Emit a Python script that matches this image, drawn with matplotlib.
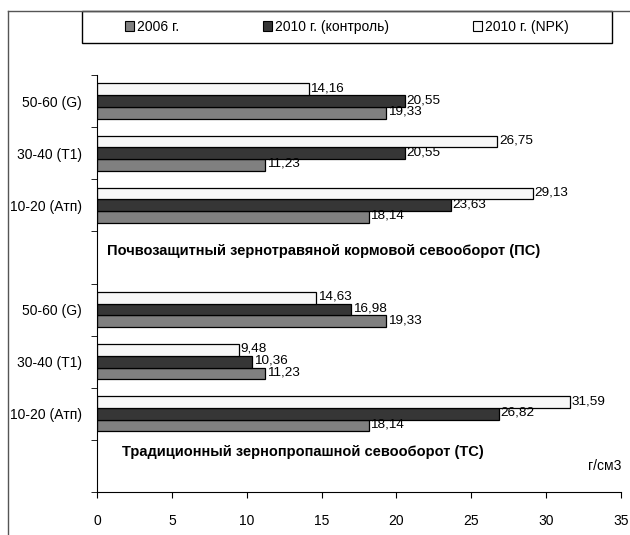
import numpy as np
import matplotlib.pyplot as plt
from matplotlib.patches import Patch, Rectangle
from matplotlib.lines import Line2D

plt.rcParams['font.family'] = ['Liberation Sans', 'DejaVu Sans']

# слои почвы, снизу вверх: пусто (подпись ТС), ТС x3, пусто (подпись ПС), ПС x3
cats = ['', '10-20 (Атп)', '30-40 (Т1)', '50-60 (G)',
        '', '10-20 (Атп)', '30-40 (Т1)', '50-60 (G)']
rows = [1, 2, 3, 5, 6, 7]
y2006 = [18.14, 11.23, 19.33, 18.14, 11.23, 19.33]
y2010k = [26.82, 10.36, 16.98, 23.63, 20.55, 20.55]
y2010npk = [31.59, 9.48, 14.63, 29.13, 26.75, 14.16]
names = ['2006 г.', '2010 г. (контроль)', '2010 г. (NPK)']
colors = ['#808080', '#363636', '#f7f7f7']

fs = 10

fig = plt.figure(figsize=(6.3, 5.35), dpi=100)
ax = fig.add_axes([97/630, 1-492/535, 524/630, 417/535])

h = 0.225
y = np.array(rows, dtype=float)
for vals, off, c in [(y2006, -h, colors[0]), (y2010k, 0, colors[1]), (y2010npk, h, colors[2])]:
    bars = ax.barh(y + off, vals, height=h, color=c, edgecolor='black', linewidth=0.9)
    for b, v in zip(bars, vals):
        ax.text(v + 0.1, b.get_y() + b.get_height()/2 + 0.02, ('%.2f' % v).replace('.', ','),
                va='center', ha='left', fontsize=9.7)

ax.set_xlim(0, 35)
ax.set_ylim(-0.5, 7.5)
ax.set_xticks(np.arange(0, 36, 5))
ax.set_yticks(range(8))
ax.set_yticklabels(cats, fontsize=fs)
ax.set_yticks(np.arange(-0.5, 8, 1), minor=True)
ax.tick_params(axis='y', which='major', length=0, pad=11)
ax.tick_params(axis='y', which='minor', length=4, direction='out')
ax.tick_params(axis='x', length=4, direction='out', labelsize=fs, pad=12)
for s in ['top', 'right']:
    ax.spines[s].set_visible(False)

ax.text(0.67, 4.13, 'Почвозащитный зернотравяной кормовой севооборот (ПС)',
        fontsize=10.5, fontweight='bold', va='center')
ax.text(1.67, 0.27, 'Традиционный зернопропашной севооборот (ТС)',
        fontsize=10.5, fontweight='bold', va='center')
ax.text(35, 0.0, 'г/см3', fontsize=fs, ha='right', va='center')

# рамка слева и сверху
fig.add_artist(Line2D([8/630, 8/630], [0, 1-11/535], color='#555555', lw=1))
fig.add_artist(Line2D([8/630, 1], [1-11/535, 1-11/535], color='#555555', lw=1))

# рамка легенды
fig.add_artist(Rectangle((82/630, 1-43/535), 530/630, 32/535, transform=fig.transFigure,
                         facecolor='white', edgecolor='black', lw=1))

handles = [Patch(facecolor=c, edgecolor='black', linewidth=0.8) for c in colors]
leg = fig.legend(handles, names, ncol=3, loc='center',
                 bbox_to_anchor=(347/630, 1-27/535),
                 fontsize=fs, frameon=False,
                 handlelength=0.65, handleheight=0.65, handletextpad=0.25,
                 columnspacing=6.0, borderaxespad=0, borderpad=0)

fig.savefig('out.png', dpi=100)
